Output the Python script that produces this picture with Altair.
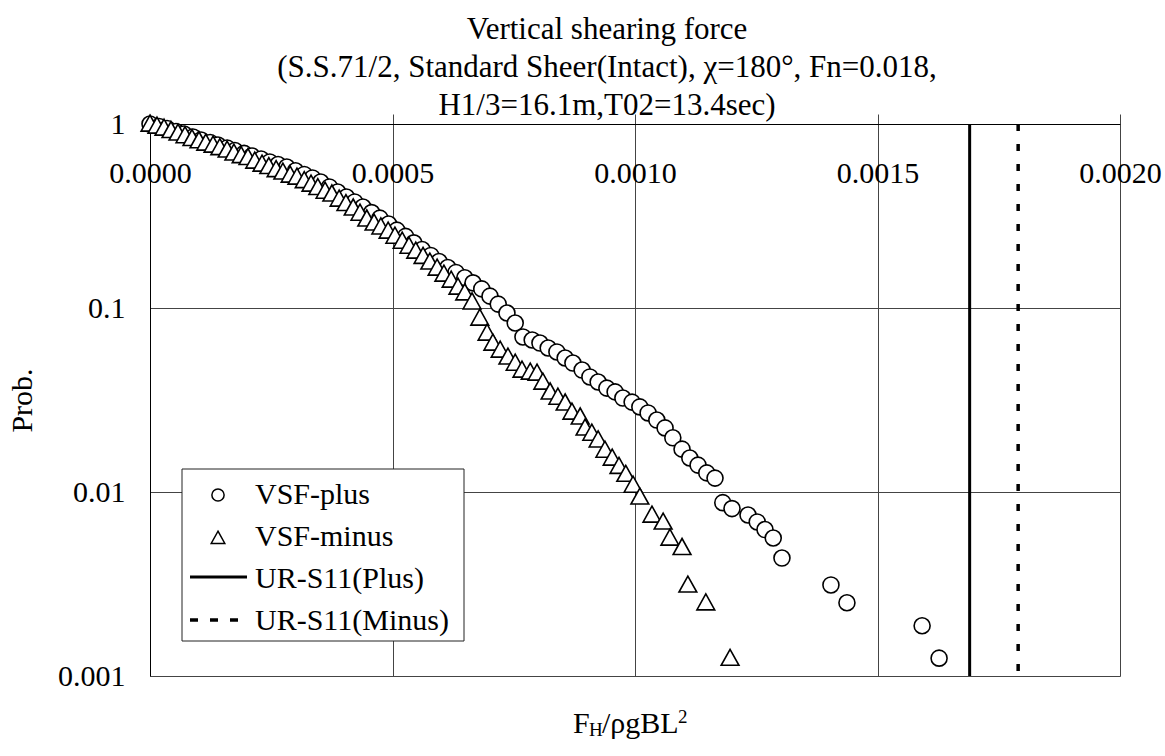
import altair as alt
import pandas as pd

FONT = "Liberation Serif"

title_lines = [
    "Vertical shearing force",
    "(S.S.71/2, Standard Sheer(Intact), χ=180°, Fn=0.018,",
    "H1/3=16.1m,T02=13.4sec)",
]
series_names = ["VSF-plus", "VSF-minus", "UR-S11(Plus)", "UR-S11(Minus)"]
x_ticks = [0, 0.0005, 0.001, 0.0015, 0.002]
y_ticks = [0.001, 0.01, 0.1, 1]

plus_x = [
    0, 0.0000186, 0.0000351, 0.0000536, 0.0000701, 0.0000887, 0.000105, 0.000124, 0.000140, 0.000159,
    0.000175, 0.000194, 0.000210, 0.000229, 0.000247, 0.000264, 0.000282,
    0.000300, 0.000318, 0.000335, 0.000352, 0.000370, 0.000387, 0.000405, 0.000422, 0.000439, 0.000457,
    0.000474, 0.000492, 0.000509, 0.000527, 0.000544, 0.000561, 0.000579, 0.000596, 0.000614, 0.000631,
    0.000649, 0.000666, 0.000684, 0.000701,
    0.000718, 0.000736, 0.000753, 0.000769, 0.000788, 0.000804, 0.000821, 0.000839, 0.000856, 0.000872,
    0.000891, 0.000907, 0.000924, 0.000942, 0.000959, 0.000975, 0.000994, 0.001010, 0.001027, 0.001045,
    0.001062, 0.001078, 0.001097, 0.001113, 0.001130, 0.001148, 0.001165, 0.001181, 0.001200, 0.001233,
    0.001252, 0.001268, 0.001285, 0.001303, 0.001404, 0.001437, 0.001592, 0.001627,
]
plus_p = [
    1.0, 0.969, 0.945, 0.910, 0.882, 0.850, 0.819, 0.794, 0.769, 0.741,
    0.718, 0.692, 0.670, 0.645, 0.622, 0.602, 0.584,
    0.557, 0.532, 0.509, 0.484, 0.455, 0.427, 0.401, 0.377, 0.354, 0.330,
    0.308, 0.286, 0.265, 0.245, 0.226, 0.208, 0.193, 0.179, 0.166, 0.156,
    0.146, 0.137, 0.127, 0.116,
    0.105, 0.0939, 0.0829, 0.0696, 0.0670, 0.0645, 0.0606, 0.0577, 0.0535, 0.0502,
    0.0460, 0.0422, 0.0396, 0.0367, 0.0350, 0.0324, 0.0308, 0.0290, 0.0269, 0.0246,
    0.0223, 0.0197, 0.0171, 0.0153, 0.0140, 0.0127, 0.0119, 0.00875, 0.008125, 0.0075,
    0.006875, 0.00625, 0.005625, 0.004375, 0.003125, 0.0025, 0.001875, 0.00125,
]

minus_x = [
    0, 0.0000144, 0.0000289, 0.0000433, 0.0000577, 0.0000722, 0.0000866, 0.000101, 0.000115, 0.000130,
    0.000144, 0.000159, 0.000173, 0.000188, 0.000202, 0.000216, 0.000231, 0.000245, 0.000260, 0.000274,
    0.000289, 0.000303, 0.000318, 0.000332, 0.000346, 0.000361, 0.000375, 0.000390, 0.000404, 0.000419,
    0.000433, 0.000447, 0.000462, 0.000476, 0.000491, 0.000505, 0.000520, 0.000534, 0.000548, 0.000563,
    0.000577, 0.000592, 0.000606, 0.000621, 0.000635, 0.000649, 0.000664,
    0.000680, 0.000695, 0.000707, 0.000722, 0.000738, 0.000753, 0.000767, 0.000784, 0.000798, 0.000810,
    0.000825, 0.000841, 0.000856, 0.000870, 0.000887, 0.000897, 0.000911, 0.000924, 0.000938, 0.000953,
    0.000967, 0.000981, 0.000996, 0.001010, 0.001035, 0.001058, 0.001072, 0.001097, 0.001109, 0.001146,
    0.001196,
]
minus_p = [
    1.0, 0.975, 0.951, 0.923, 0.894, 0.865, 0.835, 0.812, 0.788, 0.769,
    0.745, 0.723, 0.696, 0.674, 0.658, 0.629, 0.606, 0.588, 0.566, 0.549,
    0.528, 0.515, 0.493, 0.472, 0.452, 0.432, 0.417, 0.391, 0.370, 0.350,
    0.328, 0.305, 0.290, 0.276, 0.262, 0.246, 0.231, 0.217, 0.204, 0.191,
    0.178, 0.165, 0.153, 0.142, 0.130, 0.121, 0.108,
    0.0882, 0.0731, 0.0645, 0.0591, 0.0542, 0.0502, 0.0460, 0.0449, 0.0443, 0.0396,
    0.0350, 0.0328, 0.0305, 0.0272, 0.0256, 0.0223, 0.0209, 0.0192, 0.0169, 0.0153,
    0.0138, 0.0125, 0.0109, 0.0094, 0.0075, 0.006875, 0.005625, 0.005, 0.003125, 0.0025,
    0.00125,
]

ur_plus_x = [0.00169]
ur_minus_x = [0.00179]

CIRCLE = "M0.36,0A0.36,0.36,0,1,1,-0.36,0A0.36,0.36,0,1,1,0.36,0Z"
TRIANGLE = "M0,-0.4L0.4,0.32L-0.4,0.32Z"

pts = pd.DataFrame({
    "x": plus_x + minus_x,
    "p": plus_p + minus_p,
    "series": ["VSF-plus"] * len(plus_x) + ["VSF-minus"] * len(minus_x),
})
pts["order"] = range(len(pts))

x_scale = alt.Scale(domain=[0, 0.002], nice=False, zero=False)
y_scale = alt.Scale(type="log", domain=[0.001, 1], nice=False)

x_axis = alt.Axis(
    orient="top", values=x_ticks, format=".4f", title=None,
    tickSize=10, tickColor="#444", labelPadding=-68, labelBaseline="alphabetic",
    labelAlign="center",
    labelFontSize=30, labelFont=FONT, labelColor="black", labelOverlap=False,
    domainColor="black", gridColor="#444",
)

points = alt.Chart(pts).mark_point(
    filled=False, fill="white", color="black", strokeWidth=1.6, size=1975, opacity=1
).encode(
    x=alt.X("x:Q", scale=x_scale, axis=x_axis),
    y=alt.Y("p:Q", scale=y_scale, axis=alt.Axis(
        values=y_ticks, format="~g", title="Prob.", ticks=False, labelPadding=25,
        labelFontSize=30, labelFont=FONT, labelColor="black", labelOverlap=False,
        domainColor="black", gridColor="#444",
        titleX=-128, titleY=276, titleAngle=270, titleAlign="center", titleBaseline="middle",
        titleFontSize=30, titleFont=FONT, titleFontWeight="normal", titleColor="black",
    )),
    shape=alt.Shape("series:N", scale=alt.Scale(domain=series_names[:2], range=[CIRCLE, TRIANGLE]),
                    legend=None),
    order=alt.Order("order:Q"),
)

rule_plus = alt.Chart(pd.DataFrame({"x": ur_plus_x})).mark_rule(
    color="black", strokeWidth=3
).encode(x=alt.X("x:Q", scale=x_scale, axis=x_axis))

rule_minus = alt.Chart(pd.DataFrame({"x": ur_minus_x})).mark_rule(
    color="black", strokeWidth=3.5, strokeDash=[7, 13]
).encode(x=alt.X("x:Q", scale=x_scale, axis=x_axis))

one = pd.DataFrame({"a": [0]})


def txt(s, x, y, size):
    return alt.Chart(one).mark_text(
        text=s, font=FONT, fontSize=size, align="left", baseline="alphabetic", color="black"
    ).encode(x=alt.value(x), y=alt.value(y))


# x-axis title with subscript / superscript
xt1 = txt("F", 423, 609, 30)
xt2 = txt("H", 439, 612, 19)
xt3 = txt("/ρgBL", 452, 609, 30)
xt4 = txt("2", 528, 599, 19)

# legend (drawn inside the plot, like the original)
leg_box = alt.Chart(one).mark_rect(fill="white", stroke="#222", strokeWidth=1).encode(
    x=alt.value(32), x2=alt.value(314), y=alt.value(345), y2=alt.value(517))
leg_c = alt.Chart(one).mark_point(shape=CIRCLE, size=1156, filled=False, fill="white",
                                  color="black", strokeWidth=1.5, opacity=1).encode(
    x=alt.value(68), y=alt.value(371))
leg_t = alt.Chart(one).mark_point(shape=TRIANGLE, size=1156, filled=False, fill="white",
                                  color="black", strokeWidth=1.5, opacity=1).encode(
    x=alt.value(68), y=alt.value(414))
leg_l1 = alt.Chart(one).mark_rule(color="black", strokeWidth=3).encode(
    x=alt.value(40), x2=alt.value(97), y=alt.value(453))
leg_l2 = alt.Chart(one).mark_rule(color="black", strokeWidth=3.5, strokeDash=[8, 12]).encode(
    x=alt.value(40), x2=alt.value(90), y=alt.value(496))
leg_txt = [txt(series_names[i], 105, yy, 30) for i, yy in enumerate([380, 422, 464, 506])]

chart = alt.layer(
    points, rule_plus, rule_minus, xt1, xt2, xt3, xt4,
    leg_box, leg_c, leg_t, leg_l1, leg_l2, *leg_txt
).properties(
    width=970, height=552,
    title=alt.TitleParams(
        text=title_lines, fontSize=31, font=FONT, fontWeight="normal", lineHeight=38,
        anchor="middle", frame="group", dx=-28, offset=-37, baseline="alphabetic", color="black",
    ),
    autosize=alt.AutoSizeParams(type="none"),
    padding={"left": 150, "top": 124, "right": 45, "bottom": 80},
).configure_view(stroke="#888", strokeWidth=1).configure(font=FONT)

chart.save("out.html", embed_options={"renderer": "svg", "actions": False})
